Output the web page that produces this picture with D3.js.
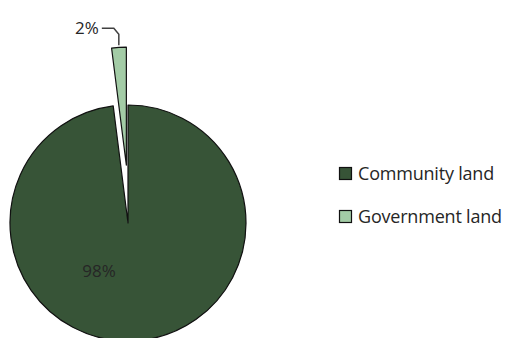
<!DOCTYPE html>
<html>
<head>
<meta charset="utf-8">
<script src="https://cdn.jsdelivr.net/npm/d3@7"></script>
<style>
  body { margin: 0; background: #fff; }
  svg { display: block; }
  text { font-family: "Open Sans", "Noto Sans", sans-serif; fill: #262626; }
</style>
</head>
<body>
<svg id="chart" width="508" height="338"></svg>
<script>
var categories = ["Community land", "Government land"];
var shares = [98, 2];
var labels = ["98%", "2%"];
var colours = ["#375437", "#a3cca6"];

var svg = d3.select("#chart");
var cx = 128, cy = 223, radius = 118, explode = 58;

var pie = d3.pie().sort(null).value(function(d){ return d; });
var arcs = pie(shares);
var arc = d3.arc().innerRadius(0).outerRadius(radius);

var colour = d3.scaleOrdinal().domain(categories).range(colours);

var pieGroup = svg.append("g").attr("transform", "translate(" + cx + "," + cy + ")");

// pull the small slice out, mostly straight up
function shift(d, i){
  if (i === 0) return [0, 0];
  var a = (d.startAngle + d.endAngle) / 2;
  return [Math.sin(a) * explode * 0.45, -Math.cos(a) * explode];
}

pieGroup.selectAll("path.slice")
  .data(arcs)
  .enter().append("path")
  .attr("class", "slice")
  .attr("d", arc)
  .attr("transform", function(d, i){ return "translate(" + shift(d, i) + ")"; })
  .attr("fill", function(d, i){ return colour(categories[i]); })
  .attr("stroke", "#111")
  .attr("stroke-width", 1.2)
  .attr("stroke-linejoin", "round");

// label inside the big slice
var inner = d3.arc().innerRadius(radius * 0.41).outerRadius(radius * 0.41);
var c0 = inner.centroid(arcs[0]);
pieGroup.append("text")
  .attr("x", c0[0] - 32)
  .attr("y", c0[1] + 6)
  .attr("text-anchor", "middle")
  .attr("font-size", 17)
  .text(labels[0]);

// leader line and label for the exploded slice
var s = arcs[1];
var mid = (s.startAngle + s.endAngle) / 2;
var off = shift(s, 1);
var tip = [off[0] + Math.sin(mid) * (radius + 2), off[1] - Math.cos(mid) * (radius + 2)];
var elbowY = tip[1] - 17;
var elbow = [tip[0] - 5, elbowY];
var start = [elbow[0] - 12, elbowY];

pieGroup.append("path")
  .attr("d", d3.line()([start, elbow, [tip[0], elbowY + 6], tip]))
  .attr("fill", "none")
  .attr("stroke", "#404040")
  .attr("stroke-width", 1.5);

pieGroup.append("text")
  .attr("x", start[0] - 3)
  .attr("y", elbowY + 6)
  .attr("text-anchor", "end")
  .attr("font-size", 17)
  .text(labels[1]);

// legend
var legend = svg.append("g").attr("transform", "translate(339,167)");
var item = legend.selectAll("g")
  .data(categories)
  .enter().append("g")
  .attr("transform", function(d, i){ return "translate(0," + i * 43 + ")"; });

item.append("rect")
  .attr("x", 0.5).attr("y", 0.5)
  .attr("width", 12).attr("height", 12)
  .attr("fill", function(d){ return colour(d); })
  .attr("stroke", "#111")
  .attr("stroke-width", 1.2);

item.append("text")
  .attr("x", 19)
  .attr("y", 12.5)
  .attr("font-size", 18)
  .attr("letter-spacing", -0.2)
  .text(function(d){ return d; });
</script>
</body>
</html>
